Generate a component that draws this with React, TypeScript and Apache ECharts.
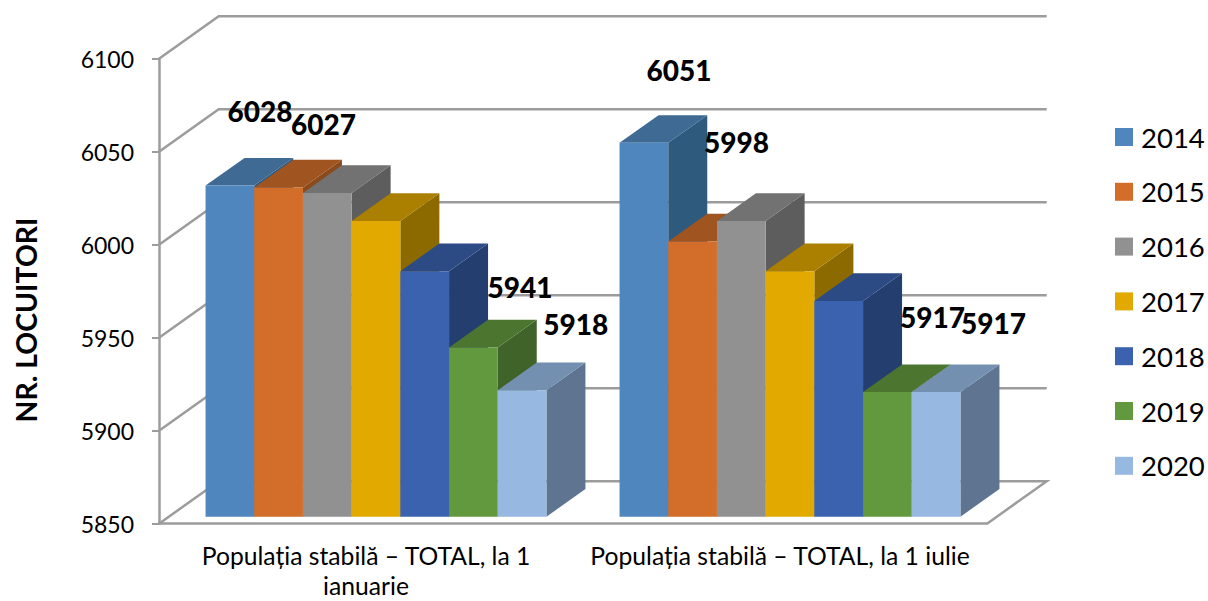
import React, { useEffect, useRef } from "react";
import * as echarts from "echarts";

const categories = ["Populația stabilă – TOTAL, la 1\nianuarie", "Populația stabilă – TOTAL, la 1 iulie"];
const years = ["2014", "2015", "2016", "2017", "2018", "2019", "2020"];
const january = [6028, 6027, 6024, 6009, 5982, 5941, 5918];
const july = [6051, 5998, 6009, 5982, 5966, 5917, 5917];
const frontColors = ["#4f86bd", "#d26d2a", "#919191", "#e2aa00", "#3a62ae", "#62993f", "#97b8e0"];
const topColors = ["#3e6a94", "#a0541f", "#727272", "#ab8000", "#2c4b85", "#4c7630", "#7490b0"];
const sideColors = ["#2e5a7e", "#8a4a1c", "#5d5d5d", "#8d6a00", "#243f6f", "#3f6329", "#5e7490"];
const yTicks = [5850, 5900, 5950, 6000, 6050, 6100];

// visible data labels, placed by hand in the original: [group, year index, dx, dy from bar top]
const labelPlacement = [
  [0, 0, 30, -74.5],
  [0, 1, 45, -63.5],
  [0, 5, 46.5, -60.4],
  [0, 6, 53.7, -66],
  [1, 0, 35, -73],
  [1, 1, 44, -99.5],
  [1, 5, 45, -75],
  [1, 6, 57.5, -69],
];

const GRID = { left: 159, right: 221, top: 58.7, bottom: 77.3, outerBoundsMode: "none" };
const WALL_DX = 59.7;
const WALL_DY = -42.5;
const BAR_W = 48.7;
const BAR_DX = 39;
const BAR_DY = -27.7;
const PLANE_X = 10;
const PLANE_Y = -7;
const LINE = "#9c9c9c";
const FONT = "Lato, sans-serif";

const groups = [january, july];

const barX = (center: number, s: number) => center + PLANE_X - 3.5 * BAR_W + s * BAR_W;

export default function App() {
  const ref = useRef<HTMLDivElement>(null);
  useEffect(() => {
    document.body.style.margin = "0";
    const chart = echarts.init(ref.current!, undefined, { renderer: "svg" });

    const wallSeries: any = {
      type: "custom",
      name: "walls",
      silent: true,
      z: 1,
      data: yTicks.map((t) => [0, t]),
      encode: { x: 0, y: 1 },
      renderItem: (_p: any, api: any) => {
        const t = api.value(1);
        const [, y] = api.coord([0, t]);
        const size = api.size([1, 0]);
        const x0 = api.coord([0, t])[0] - size[0] / 2;
        const x1 = x0 + size[0] * 2;
        const pts: number[][] =
          t === yTicks[0]
            ? [[x0, y], [x0 + WALL_DX, y + WALL_DY], [x1 + WALL_DX, y + WALL_DY], [x1, y]]
            : [[x0, y], [x0 + WALL_DX, y + WALL_DY], [x1 + WALL_DX, y + WALL_DY]];
        return {
          type: "polyline",
          shape: { points: pts },
          style: { stroke: LINE, lineWidth: 2.5, fill: "none" },
        };
      },
    };

    const barSeries: any[] = years.map((name, s) => ({
      type: "custom",
      name,
      silent: true,
      z: 2 + s,
      itemStyle: { color: frontColors[s] },
      data: groups.map((g, c) => [c, g[s]]),
      encode: { x: 0, y: 1 },
      renderItem: (_p: any, api: any) => {
        const c = api.value(0);
        const v = api.value(1);
        const [cx, yv] = api.coord([c, v]);
        const [, yb] = api.coord([c, yTicks[0]]);
        const x = barX(cx, s);
        const top = yv + PLANE_Y;
        const base = yb + PLANE_Y;
        const r = x + BAR_W;
        return {
          type: "group",
          children: [
            {
              type: "polygon",
              shape: { points: [[r, top], [r + BAR_DX, top + BAR_DY], [r + BAR_DX, base + BAR_DY], [r, base]] },
              style: { fill: sideColors[s] },
            },
            {
              type: "polygon",
              shape: { points: [[x, top], [x + BAR_DX, top + BAR_DY], [r + BAR_DX, top + BAR_DY], [r, top]] },
              style: { fill: topColors[s] },
            },
            {
              type: "rect",
              shape: { x, y: top, width: BAR_W, height: base - top },
              style: { fill: frontColors[s] },
            },
          ],
        };
      },
    }));

    const labelSeries: any = {
      type: "custom",
      name: "labels",
      silent: true,
      z: 20,
      data: labelPlacement.map(([g, s, dx, dy]) => [g, groups[g][s], s, dx, dy]),
      encode: { x: 0, y: 1 },
      renderItem: (_p: any, api: any) => {
        const c = api.value(0);
        const v = api.value(1);
        const [cx, yv] = api.coord([c, v]);
        const x = barX(cx, api.value(2)) + BAR_W / 2 + api.value(3);
        const y = yv + PLANE_Y + api.value(4);
        return {
          type: "text",
          style: {
            x,
            y,
            text: String(v),
            fill: "#000",
            font: `900 28px ${FONT}`,
            align: "center",
            verticalAlign: "middle",
          },
        };
      },
    };

    chart.setOption({
      animation: false,
      backgroundColor: "#fff",
      grid: { ...GRID },
      textStyle: { fontFamily: FONT },
      legend: {
        orient: "vertical",
        left: 1115,
        top: 123,
        padding: 0,
        itemWidth: 18,
        itemHeight: 18,
        itemGap: 26.8,
        icon: "rect",
        data: years.map((name, s) => ({ name, itemStyle: { color: frontColors[s] } })),
        textStyle: { fontSize: 27.5, color: "#000", fontFamily: FONT, padding: [0, 0, 0, 3] },
        itemStyle: { borderWidth: 0 },
        selectedMode: false,
      },
      xAxis: {
        type: "category",
        data: categories,
        axisLine: { show: true, lineStyle: { color: LINE, width: 2.5 } },
        axisTick: { show: false },
        axisLabel: {
          interval: 0,
          margin: 17,
          fontSize: 24.7,
          lineHeight: 30,
          color: "#000",
          fontFamily: FONT,
        },
      },
      yAxis: {
        type: "value",
        min: 5850,
        max: 6100,
        interval: 50,
        splitLine: { show: false },
        axisLine: { show: true, lineStyle: { color: LINE, width: 2.5 } },
        axisTick: { show: true, length: 7, lineStyle: { color: LINE, width: 2 } },
        axisLabel: { margin: 25, fontSize: 23, color: "#000", fontFamily: FONT, formatter: (v: number) => String(v) },
      },
      graphic: [
        {
          type: "text",
          x: 26,
          y: 320,
          rotation: Math.PI / 2,
          style: {
            text: "NR. LOCUITORI",
            font: `bold 28.4px ${FONT}`,
            fill: "#000",
            align: "center",
            verticalAlign: "middle",
          },
        },
      ],
      series: [wallSeries, ...barSeries, labelSeries],
    });
    return () => chart.dispose();
  }, []);
  return <div ref={ref} style={{ position: "fixed", left: 0, top: 0, width: 1208, height: 601 }} />;
}
